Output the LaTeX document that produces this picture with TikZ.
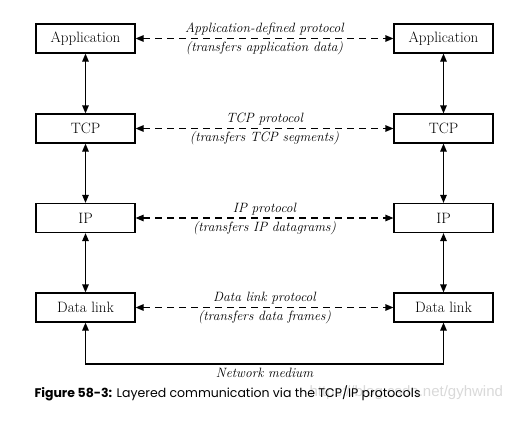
\documentclass[tikz,border=0pt]{standalone}
\usepackage{fontspec}
\usepackage{tikz}
\usetikzlibrary{arrows.meta}
\newfontfamily\capfont{Poppins}
\newfontfamily\markfont{Liberation Sans}

\begin{document}
\begin{tikzpicture}[x=1pt,y=-1pt,
  every node/.style={font=\fontsize{15}{18}\selectfont},
  layer/.style={draw,line width=1.2pt,minimum width=99pt,minimum height=29pt,inner sep=0pt},
  proto/.style={font=\fontsize{13.5}{16}\selectfont\itshape,inner sep=2.5pt},
  updown/.style={line width=1.2pt,{Triangle[length=8pt,width=6.5pt]}-{Triangle[length=8pt,width=6.5pt]}},
  peer/.style={updown,dash pattern=on 7pt off 5pt}]
\useasboundingbox (0,0) rectangle (521,428);
\node[layer] (app1) at (85.5,38.5) {Application};
\node[layer] (app2) at (443.5,38.5) {Application};
\node[layer] (tcp1) at (85.5,128.5) {TCP};
\node[layer] (tcp2) at (443.5,128.5) {TCP};
\node[layer] (ip1) at (85.5,218) {IP};
\node[layer] (ip2) at (443.5,218) {IP};
\node[layer] (dl1) at (85.5,307.5) {Data link};
\node[layer] (dl2) at (443.5,307.5) {Data link};
\coordinate (m1) at (85.5,364);
\coordinate (m2) at (443.5,364);
\draw[updown] (app1) -- (tcp1);
\draw[updown] (tcp1) -- (ip1);
\draw[updown] (ip1) -- (dl1);
\draw[updown] (app2) -- (tcp2);
\draw[updown] (tcp2) -- (ip2);
\draw[updown] (ip2) -- (dl2);
\draw[peer] (app1) -- node[proto,above] {Application-defined protocol}
  node[proto,below] {(transfers application data)} (app2);
\draw[peer] (tcp1) -- node[proto,above] {TCP protocol}
  node[proto,below] {(transfers TCP segments)} (tcp2);
\draw[peer] (ip1) -- node[proto,above] {IP protocol}
  node[proto,below] {(transfers IP datagrams)} (ip2);
\draw[peer] (dl1) -- node[proto,above] {Data link protocol}
  node[proto,below] {(transfers data frames)} (dl2);
\draw[updown] (dl1) -- (m1) -- node[proto,below,inner sep=3.5pt] {Network medium} (m2) -- (dl2);
\node[anchor=west,font=\markfont\fontsize{15}{18}\selectfont,text=gray!30] (mark) at (306,393)
  {https://blog.csdn.net/gyhwind};
\node[anchor=west,font=\capfont\fontsize{12.5}{15}\selectfont] (caption) at (31,393)
  {{\bfseries Figure 58-3:} Layered communication via the TCP/IP protocols};
\end{tikzpicture}
\end{document}
